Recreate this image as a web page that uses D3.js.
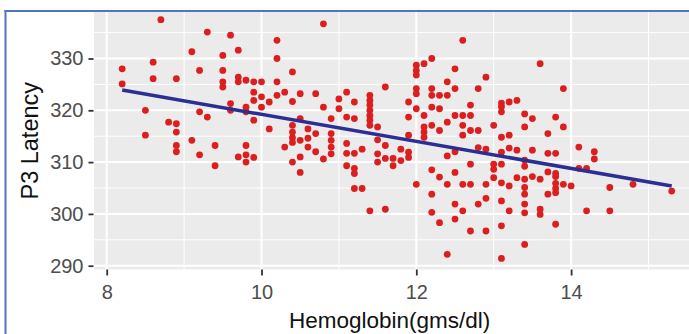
<!DOCTYPE html>
<html>
<head>
  <meta charset="UTF-8">
  <style>
    body { margin: 0; background: #fff; }
    svg { display: block; font-family: "Liberation Sans", Arial, sans-serif; }
  </style>
</head>
<body>
<svg></svg>
<script src="https://d3js.org/d3.v7.min.js"></script>
<script>
// values
const hemoglobin = [
  8.7, 9.3, 9.6, 10.2, 9.1, 9.5, 9.7, 10.2, 8.2, 8.6, 9.2, 9.5, 10.4, 8.2, 8.6, 8.9,
  9.5, 9.5, 9.7, 9.7, 9.8, 9.9, 10.0, 10.2, 9.9, 10.0, 10.2, 10.3, 9.9, 10.1, 9.6, 10.0,
  9.6, 9.8, 9.8, 8.5, 9.2, 9.3, 9.9, 8.8, 8.9, 8.9, 8.5, 10.1, 10.4, 10.4, 10.4, 9.1,
  8.9, 8.9, 9.2, 9.4, 9.4, 9.8, 9.8, 9.7, 9.9, 9.8, 10.3, 10.4, 10.4, 10.4,
  10.8, 12.6, 12.0, 12.0, 12.0, 12.1, 12.2, 12.5, 12.9, 12.4, 11.6, 12.0, 12.0, 12.2,
  12.2, 12.3, 12.4, 12.5, 12.8, 10.5, 10.7, 11.1, 11.4, 11.4, 11.4, 11.4, 11.4, 11.4,
  11.4, 11.0, 11.2, 11.9, 10.8, 11.0, 12.0, 12.2, 12.3, 12.7, 10.9, 11.1, 11.2, 11.5,
  11.9, 12.1, 12.2, 12.3, 12.4, 12.5, 12.6, 12.7, 12.6, 12.7, 12.8, 12.6, 10.6, 10.7,
  10.9, 10.9, 10.5, 11.9, 12.1, 12.1, 12.1, 10.6, 10.6, 10.7, 10.5, 10.5, 10.8, 10.9,
  10.9, 11.1, 11.1, 11.2, 11.3, 11.1, 11.2, 11.2, 11.2, 11.3, 11.4, 11.6, 11.5, 11.5,
  11.5, 11.6, 11.6, 11.7, 11.7, 11.8, 11.8, 11.9, 11.9, 12.0, 12.2, 12.2, 12.2, 12.3,
  12.3, 12.4, 12.4, 12.4, 12.5, 12.5, 12.5, 12.5, 12.6, 12.7, 12.6, 12.7, 12.7, 12.8,
  12.8, 12.9, 12.9, 12.9, 12.9, 10.5,
  13.6, 13.9, 13.1, 13.1, 13.1, 13.2, 13.3, 13.4, 13.5, 13.8, 13.0, 13.4, 13.9, 13.7,
  13.1, 13.2, 13.1, 13.2, 13.3, 13.5, 13.7, 13.8, 14.1, 14.3, 14.3, 13.0, 13.0, 13.1,
  13.4, 13.4, 13.7, 13.8, 13.8, 13.8, 13.8, 13.8, 14.1, 14.2, 13.0, 13.3, 13.4, 13.5,
  13.6, 13.9, 14.0, 13.1, 13.2, 13.4, 14.5, 14.8, 15.3, 13.1, 13.4, 13.7, 13.4, 13.4,
  13.2, 13.6, 13.6, 14.2, 14.5, 13.8, 13.4, 13.1, 13.1
];
const latency = [
  337.5, 335.1, 334.5, 333.5, 331.3, 330.6, 331.6, 330.0, 328.0, 329.3, 327.7, 327.7, 327.4, 325.1, 326.1, 326.1,
  325.5, 324.5, 326.4, 325.5, 325.8, 325.5, 325.5, 325.5, 323.5, 322.6, 322.9, 323.5, 321.9, 321.6, 321.3, 320.6,
  320.0, 320.6, 319.7, 320.0, 319.7, 318.7, 318.1, 317.7, 317.4, 315.8, 315.2, 316.4, 317.1, 315.8, 314.7, 314.2,
  313.2, 312.0, 311.4, 313.2, 309.3, 313.2, 311.4, 311.0, 310.9, 310.0, 312.9, 313.8, 310.0, 321.7,
  336.7, 333.5, 328.7, 327.7, 326.8, 329.0, 330.0, 328.0, 326.4, 325.5, 324.5, 324.2, 323.2, 324.2,
  322.9, 322.9, 322.9, 324.2, 324.2, 323.2, 323.2, 323.5, 322.9, 321.9, 321.0, 320.0, 319.0, 318.1,
  317.1, 322.2, 321.6, 321.6, 320.6, 320.3, 320.3, 320.6, 320.3, 321.0, 318.4, 318.7, 318.4, 316.8,
  318.7, 319.0, 317.1, 316.1, 317.7, 319.0, 319.0, 319.0, 317.1, 316.1, 316.1, 315.2, 316.4, 315.5,
  315.5, 314.2, 314.2, 315.2, 316.8, 315.8, 314.8, 314.6, 312.9, 312.0, 311.0, 308.0, 310.6, 312.9,
  311.6, 313.6, 311.7, 311.7, 312.5, 309.3, 308.8, 307.8, 304.9, 304.9, 300.6, 300.9, 314.3, 311.6,
  310.0, 313.2, 310.7, 310.7, 309.3, 312.5, 310.3, 311.9, 310.9, 305.7, 308.5, 303.8, 300.3, 307.1,
  298.3, 311.2, 305.7, 292.2, 308.0, 301.9, 299.0, 312.0, 305.7, 305.7, 300.6, 309.6, 296.7, 312.8,
  301.9, 305.7, 303.0, 296.7, 312.5, 318.4,
  329.0, 324.2, 321.4, 320.7, 319.7, 321.6, 321.9, 319.3, 318.4, 318.7, 317.1, 316.8, 316.8, 315.5,
  314.8, 315.2, 311.9, 312.7, 312.3, 312.3, 311.7, 311.7, 312.9, 312.0, 310.6, 309.6, 308.6, 309.6,
  310.4, 309.2, 308.1, 307.8, 307.2, 305.9, 304.9, 304.1, 308.8, 308.8, 307.0, 307.0, 306.7, 307.2,
  306.7, 305.7, 305.4, 306.0, 305.4, 305.1, 305.1, 305.7, 304.4, 302.5, 303.8, 303.8, 301.9, 300.2,
  300.6, 300.9, 299.9, 300.6, 300.6, 298.0, 294.1, 291.4, 297.7
];

// fitted line end points
const fitHb = [8.2, 15.3];
const fitLatency = [323.9, 305.4];

const xMajor = [8, 10, 12, 14];
const xMinor = [9, 11, 13, 15];
const yMajor = [290, 300, 310, 320, 330];
const yMinor = [295, 305, 315, 325, 335];

let width = 689, height = 334;
let panel = {left: 94, right: 689, top: 12, bottom: 269.5};

let svg = d3.select("svg")
    .attr("width", width)
    .attr("height", height);

let x = d3.scaleLinear().domain([8, 15]).range([106.7, 648.5]);
let y = d3.scaleLinear().domain([290, 330]).range([265.7, 58.5]);

// panel background
svg.append("rect")
    .attr("x", panel.left)
    .attr("y", panel.top)
    .attr("width", panel.right - panel.left)
    .attr("height", panel.bottom - panel.top)
    .attr("fill", "#ebebeb");

// grid
let grid = svg.append("g").attr("stroke", "#fff");
grid.selectAll(".vmin").data(xMinor).enter().append("line")
    .attr("x1", d => x(d)).attr("x2", d => x(d))
    .attr("y1", panel.top).attr("y2", panel.bottom)
    .attr("stroke-width", 1);
grid.selectAll(".hmin").data(yMinor).enter().append("line")
    .attr("y1", d => y(d)).attr("y2", d => y(d))
    .attr("x1", panel.left).attr("x2", panel.right)
    .attr("stroke-width", 1);
grid.selectAll(".vmaj").data(xMajor).enter().append("line")
    .attr("x1", d => x(d)).attr("x2", d => x(d))
    .attr("y1", panel.top).attr("y2", panel.bottom)
    .attr("stroke-width", 2);
grid.selectAll(".hmaj").data(yMajor).enter().append("line")
    .attr("y1", d => y(d)).attr("y2", d => y(d))
    .attr("x1", panel.left).attr("x2", panel.right)
    .attr("stroke-width", 2);

// points
svg.append("g")
    .selectAll("circle")
    .data(hemoglobin.map((h, i) => ({hb: h, lat: latency[i]})))
    .enter()
    .append("circle")
    .attr("cx", d => x(d.hb))
    .attr("cy", d => y(d.lat))
    .attr("r", 3.4)
    .attr("fill", "#dc1e1e");

// fit line
svg.append("path")
    .datum(fitHb.map((h, i) => [h, fitLatency[i]]))
    .attr("fill", "none")
    .attr("stroke", "#2b2e92")
    .attr("stroke-width", 3.5)
    .attr("d", d3.line().x(d => x(d[0])).y(d => y(d[1])));

// axes
let yAxis = svg.append("g")
    .attr("transform", "translate(" + (panel.left - 0.5) + ",0)")
    .call(d3.axisLeft(y).tickValues(yMajor).tickSize(5).tickPadding(5).tickFormat(d3.format("d")));
let xAxis = svg.append("g")
    .attr("transform", "translate(0," + panel.bottom + ")")
    .call(d3.axisBottom(x).tickValues(xMajor).tickSize(6).tickPadding(9.5).tickFormat(d3.format("d")));

[yAxis, xAxis].forEach(a => {
    a.select(".domain").remove();
    a.selectAll(".tick line").attr("stroke", "#333").attr("stroke-width", 1.8);
    a.selectAll(".tick text")
        .attr("fill", "#4d4d4d")
        .style("font-size", "20px")
        .style("font-family", "Liberation Sans, Arial, sans-serif");
});

// axis titles
svg.append("text")
    .attr("x", 289)
    .attr("y", 328)
    .attr("fill", "#111")
    .style("font-size", "22.5px")
    .text("Hemoglobin(gms/dl)");

svg.append("text")
    .attr("transform", "translate(38," + ((panel.top + panel.bottom) / 2) + ") rotate(-90)")
    .attr("text-anchor", "middle")
    .attr("fill", "#111")
    .style("font-size", "23.5px")
    .text("P3 Latency");

// picture frame
svg.append("line")
    .attr("x1", 5.5).attr("x2", 5.5).attr("y1", 10).attr("y2", height)
    .attr("stroke", "#4f74c2").attr("stroke-width", 2);
svg.append("line")
    .attr("x1", 4.5).attr("x2", width).attr("y1", 11).attr("y2", 11)
    .attr("stroke", "#4f74c2").attr("stroke-width", 2);
</script>
</body>
</html>
